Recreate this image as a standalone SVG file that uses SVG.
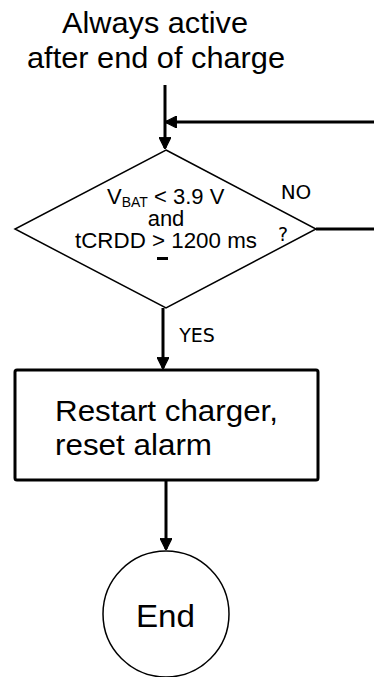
<svg xmlns="http://www.w3.org/2000/svg" width="374" height="677" viewBox="0 0 374 677">
<style>
.t{font-family:"Liberation Sans",Arial,sans-serif;fill:#000}
.d{font-family:"DejaVu Sans",Verdana,sans-serif;fill:#000}
.c{stroke:#000;stroke-width:3;fill:none}
</style>
<defs>
<marker id="ah" viewBox="0 0 10 10" refX="9" refY="5" markerWidth="4" markerHeight="4" orient="auto" markerUnits="strokeWidth">
<path d="M0,0 L10,5 L0,10 z" fill="#000" stroke="#000" stroke-linejoin="round"/>
</marker>
</defs>
<rect width="374" height="677" fill="#fff"/>
<g id="start">
<text class="t" x="62" y="33" font-size="29" textLength="186" lengthAdjust="spacingAndGlyphs">Always active</text>
<text class="t" x="27" y="68" font-size="29" textLength="258" lengthAdjust="spacingAndGlyphs">after end of charge</text>
</g>
<g id="decision">
<polygon points="166,150 316,229 166,308 15,229" fill="#fff" stroke="#000" stroke-width="1.5"/>
<text class="t" x="107" y="204" font-size="22">V<tspan font-size="14" dy="3">BAT</tspan><tspan dy="-3"> &lt; 3.9 V</tspan></text>
<text class="t" x="166" y="226" font-size="22" text-anchor="middle">and</text>
<text class="t" x="75" y="248" font-size="22" textLength="182" lengthAdjust="spacingAndGlyphs">tCRDD &gt; 1200 ms</text>
<rect x="157" y="257" width="11" height="3" fill="#000"/>
<text class="d" x="283" y="241" font-size="19" text-anchor="middle">?</text>
</g>
<g id="action">
<rect x="15" y="370" width="303" height="110" rx="2" fill="#fff" stroke="#000" stroke-width="3"/>
<text class="t" x="55" y="421" font-size="30" textLength="223" lengthAdjust="spacingAndGlyphs">Restart charger,</text>
<text class="t" x="55" y="455" font-size="30" textLength="157" lengthAdjust="spacingAndGlyphs">reset alarm</text>
</g>
<g id="end">
<circle cx="166" cy="614" r="63" fill="#fff" stroke="#000" stroke-width="1.5"/>
<text class="t" x="136" y="627" font-size="32" textLength="59" lengthAdjust="spacingAndGlyphs">End</text>
</g>
<g id="connectors">
<line class="c" x1="165" y1="85" x2="165" y2="148" marker-end="url(#ah)"/>
<line class="c" x1="374" y1="122" x2="166" y2="122" marker-end="url(#ah)"/>
<line class="c" x1="316" y1="229" x2="374" y2="229"/>
<text class="d" x="296" y="199" font-size="20" text-anchor="middle">NO</text>
<line class="c" x1="163" y1="308" x2="163" y2="368" marker-end="url(#ah)"/>
<text class="d" x="197" y="342" font-size="19" text-anchor="middle">YES</text>
<line class="c" x1="166" y1="481" x2="166" y2="549" marker-end="url(#ah)"/>
</g>
</svg>
